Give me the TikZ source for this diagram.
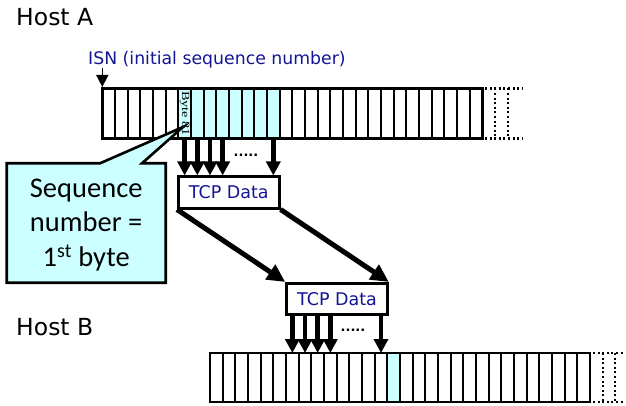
\documentclass[tikz,border=0pt]{standalone}
\usepackage{fontspec}
\newfontfamily\comic{DejaVu Sans}
\newfontfamily\calib{Carlito}
\newfontfamily\tms{Liberation Serif}
\usetikzlibrary{arrows.meta}
\definecolor{lcyan}{HTML}{CCFFFF}
\definecolor{isnblue}{RGB}{20,20,150}
\tikzset{
  cellline/.style={line width=1.8pt},
  barframe/.style={line width=2.8pt},
  dotline/.style={line width=2.2pt, dash pattern=on 2pt off 2.6pt},
  bigarrow/.style={line width=4.6pt, -{Triangle[width=14pt,length=14pt]}},
  diagarrow/.style={line width=5pt, -{Triangle[width=17pt,length=18pt]}},
  tcpbox/.style={draw, line width=2.6pt, fill=white, minimum width=101pt, minimum height=31.5pt, inner sep=0pt, font=\comic\fontsize{17.5}{18}\selectfont, text=isnblue},
  hostlabel/.style={anchor=base west, inner sep=0pt, font=\comic\fontsize{23.5}{24}\selectfont},
  dotslabel/.style={inner sep=0pt, font=\comic\bfseries\fontsize{13}{13}\selectfont},
}
\begin{document}
\begin{tikzpicture}[x=1pt, y=-1pt]
\useasboundingbox (0,0) rectangle (626,406);
\def\cw{12.667}
% ---------- Host A bar ----------
\def\ax{102.3}\def\at{88.5}\def\ab{138.5}
\foreach \k in {6,...,13} {
  \fill[lcyan] (\ax+\k*\cw,\at) rectangle (\ax+\k*\cw+\cw,\ab);
}
\foreach \k in {1,...,29} {
  \draw[cellline] (\ax+\k*\cw,\at) -- (\ax+\k*\cw,\ab);
}
\draw[barframe] (\ax,\at) rectangle (\ax+30*\cw,\ab);
\foreach \k in {0,...,29} {
  \coordinate (a\k) at (\ax+\k*\cw+0.5*\cw,\ab);
}
% dotted extension A
\draw[dotline] (485,\at) -- (522,\at);
\draw[dotline] (485,\ab) -- (522,\ab);
\draw[dotline] (495,\at) -- (495,\ab);
\draw[dotline] (508,\at) -- (508,\ab);
% Byte 81
\node[rotate=-90, inner sep=0pt, font=\tms\fontsize{11}{11}\selectfont] (byte) at (\ax+6.5*\cw,113.5) {\scalebox{1.3}[1]{Byte 81}};
% ---------- Host B bar ----------
\def\bx{210}\def\bt{353}\def\bb{402}
\fill[lcyan] (\bx+14*\cw,\bt) rectangle (\bx+15*\cw,\bb);
\foreach \k in {1,...,29} {
  \draw[cellline] (\bx+\k*\cw,\bt) -- (\bx+\k*\cw,\bb);
}
\draw[barframe] (\bx,\bt) rectangle (\bx+30*\cw,\bb);
\foreach \k in {0,...,29} {
  \coordinate (b\k) at (\bx+\k*\cw+0.5*\cw,\bt);
}
% dotted extension B
\draw[dotline] (593,\bt) -- (624,\bt);
\draw[dotline] (593,\bb) -- (624,\bb);
\draw[dotline] (603,\bt) -- (603,\bb);
\draw[dotline] (615,\bt) -- (615,\bb);
% ---------- labels ----------
\node[hostlabel] (hostA) at (16,26) {Host A};
\node[hostlabel] (hostB) at (16,335) {Host B};
\node[anchor=base west, inner sep=0pt, text=isnblue, font=\comic\fontsize{17.3}{18}\selectfont] (isn) at (88,65) {ISN (initial sequence number)};
\coordinate (isnstart) at (\ax,68);
\coordinate (isnend) at (\ax,87);
\draw[line width=1.5pt, -{Triangle[width=12pt,length=12pt]}] (isnstart) -- (isnend);
% ---------- TCP boxes ----------
\node[tcpbox] (tcp1) at (228.8,192.5) {TCP Data};
\node[tcpbox] (tcp2) at (337,299) {TCP Data};
% arrows bar A -> tcp1
\foreach \k in {6,7,8,9,13} {
  \draw[bigarrow] (a\k) -- (a\k |- tcp1.north);
}
\node[dotslabel] (dotsA) at (246,155) {.....};
% diagonal arrows
\draw[diagarrow] (tcp1.south west) -- (tcp2.north west);
\draw[diagarrow] (tcp1.south east) -- (tcp2.north east);
% arrows tcp2 -> bar B
\foreach \k in {6,7,8,9,13} {
  \draw[bigarrow] (b\k |- tcp2.south) -- (b\k);
}
\node[dotslabel] (dotsB) at (353,330) {.....};
% ---------- callout ----------
\coordinate (tip) at (183,127);
\draw[line width=2.6pt, fill=lcyan, line join=miter] (6.7,163.3) -- (100,163.3) -- (tip) -- (142,163.3) -- (165.7,163.3) -- (165.7,282.7) -- (6.7,282.7) -- cycle;
\node[align=center, inner sep=0pt, font=\calib\fontsize{28.5}{34.5}\selectfont] (callout) at (86.2,225) {Sequence\\number =\\1\textsuperscript{st} byte};
\end{tikzpicture}
\end{document}
